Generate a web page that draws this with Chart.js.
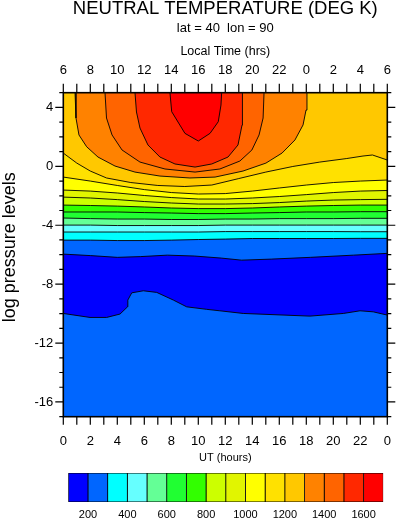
<!DOCTYPE html>
<html>
<head>
<meta charset="utf-8">
<script src="https://cdn.jsdelivr.net/npm/chart.js@4.4.1/dist/chart.umd.min.js"></script>
<style>
  html, body { margin: 0; padding: 0; background: #fff; }
  #wrap { position: relative; width: 398px; height: 519px; }
  #main { position: absolute; left: 0; top: 0; }
  #bar { position: absolute; left: 0; top: 470px; }
</style>
</head>
<body>
<div id="wrap">
  <canvas id="main" width="398" height="470" style="width:398px;height:470px"></canvas>
  <canvas id="bar" width="398" height="49" style="width:398px;height:49px"></canvas>
</div>
<script>
Chart.defaults.font.family = "'Liberation Sans', Arial, Helvetica, sans-serif";
Chart.defaults.color = '#000';

// contour levels (deg K) and the fill colour of each interval
const levels = [200, 300, 400, 500, 600, 700, 800, 900, 1000, 1100, 1200, 1300, 1400, 1500, 1600];
const palette = ['#0000ff', '#0066ff', '#00ffff', '#66ffff', '#64ff96', '#20ff32', '#32ff00', '#ccff00',
                 '#e1f500', '#ffff00', '#ffe100', '#ffc800', '#ff8200', '#ff6400', '#ff2800', '#ff0000'];

// tick labels
const utLabels = ['0', '2', '4', '6', '8', '10', '12', '14', '16', '18', '20', '22', '0'];
const localLabels = ['6', '8', '10', '12', '14', '16', '18', '20', '22', '0', '2', '4', '6'];
const pressureTicks = [4, 0, -4, -8, -12, -16];
const pressureLabels = ['4', '0', '-4', '-8', '-12', '-16'];
const barLabels = ['200', '400', '600', '800', '1000', '1200', '1400', '1600'];

// contour lines: UT (hours) and log pressure
const utGrid = [0, 2, 4, 6, 8, 10, 12, 14, 16, 18, 20, 22, 24];
const utBase = [0, 24];
const levBase = [-17, -17];
const ut200a = [0, 1.98, 3.21, 4.2, 4.76, 4.78, 5.07, 5.93, 6.92, 8.15, 9.14, 10.62, 11.6, 13.33, 18.27, 20.74, 21.98, 22.96, 24];
const lev200a = [-9.99, -10.26, -10.26, -10.03, -9.54, -9.08, -8.59, -8.45, -8.56, -9.08, -9.54, -9.71, -9.81, -9.99, -10.17, -9.99, -9.81, -9.88, -10.10];
const ut200b = [0, 2, 4, 5.7, 7.7, 9.7, 11.7, 13.2, 15.4, 18.3, 21.5, 24];
const lev200b = [-5.96, -6.06, -6.18, -6.13, -6.03, -6.09, -6.23, -6.37, -6.30, -6.18, -6.03, -5.91];
const lev300 = [-5.01, -5.01, -5.04, -5.04, -5.01, -4.97, -4.94, -4.90, -4.90, -4.90, -4.90, -4.89, -4.89];
const lev400 = [-4.46, -4.46, -4.46, -4.46, -4.46, -4.46, -4.43, -4.43, -4.43, -4.43, -4.43, -4.44, -4.44];
const lev500 = [-3.99, -3.99, -4.02, -4.02, -4.02, -4.02, -3.99, -3.99, -3.99, -3.99, -3.99, -3.99, -3.99];
const lev600 = [-3.51, -3.55, -3.58, -3.58, -3.61, -3.61, -3.58, -3.58, -3.55, -3.55, -3.55, -3.53, -3.53];
const lev700 = [-3.10, -3.10, -3.10, -3.14, -3.17, -3.21, -3.21, -3.17, -3.14, -3.10, -3.10, -3.08, -3.08];
const lev800 = [-2.63, -2.66, -2.70, -2.76, -2.83, -2.87, -2.87, -2.83, -2.76, -2.70, -2.66, -2.63, -2.63];
const lev900 = [-2.09, -2.15, -2.26, -2.39, -2.49, -2.56, -2.56, -2.53, -2.46, -2.36, -2.29, -2.26, -2.24];
const lev1000 = [-1.61, -1.68, -1.81, -1.98, -2.12, -2.22, -2.22, -2.15, -2.05, -1.92, -1.78, -1.68, -1.64];
const lev1100 = [-0.73, -1.00, -1.30, -1.58, -1.78, -1.88, -1.85, -1.68, -1.47, -1.27, -1.10, -1.00, -0.93];
const ut1200 = [0, 1, 2, 3.2, 5, 7, 9, 11, 13, 15, 17, 19, 21, 22.2, 22.9, 24];
const lev1200 = [0.90, 0.22, -0.32, -0.79, -1.10, -1.30, -1.37, -1.27, -0.83, -0.39, -0.01, 0.29, 0.53, 0.70, 0.77, 0.43];
const ut1300 = [0.87, 0.94, 1.16, 1.73, 2.57, 3.83, 5.31, 7.16, 9.38, 11.24, 13.31, 15.01, 16.2, 17.16, 17.76, 17.98, 18.05];
const lev1300 = [5, 3.28, 2.13, 1.33, 0.63, 0.02, -0.39, -0.66, -0.79, -0.73, -0.32, 0.22, 0.90, 1.79, 2.81, 3.82, 5];
const ut1400 = [3.09, 3.2, 3.61, 4.35, 5.68, 7.53, 9.76, 11.6, 13.08, 13.97, 14.5, 14.8, 14.87];
const lev1400 = [5, 3.28, 2.13, 1.11, 0.29, -0.18, -0.39, -0.18, 0.36, 1.11, 2.13, 3.28, 5];
const ut1500 = [5.31, 5.42, 5.68, 6.27, 7.16, 8.27, 9.76, 11.0, 12.2, 12.94, 13.24, 13.27];
const lev1500 = [5, 3.69, 2.6, 1.45, 0.63, 0.16, -0.05, 0.16, 0.63, 1.45, 2.8, 5];
const ut1600 = [7.9, 8.03, 9.01, 10.0, 10.87, 11.48, 11.68, 11.73];
const lev1600 = [5, 3.71, 2.24, 1.72, 2.24, 3.03, 4.16, 5];

// bottom to top; each one is filled upward with the colour of the band above it
const contours = [
  { x: utBase, y: levBase, band: 1, line: false },
  { x: ut200a, y: lev200a, band: 0 },
  { x: ut200b, y: lev200b, band: 1 },
  { x: utGrid, y: lev300, band: 2 },
  { x: utGrid, y: lev400, band: 3 },
  { x: utGrid, y: lev500, band: 4 },
  { x: utGrid, y: lev600, band: 5 },
  { x: utGrid, y: lev700, band: 6 },
  { x: utGrid, y: lev800, band: 7 },
  { x: utGrid, y: lev900, band: 8 },
  { x: utGrid, y: lev1000, band: 9 },
  { x: utGrid, y: lev1100, band: 10 },
  { x: ut1200, y: lev1200, band: 11 },
  { x: ut1300, y: lev1300, band: 12 },
  { x: ut1400, y: lev1400, band: 13 },
  { x: ut1500, y: lev1500, band: 14 },
  { x: ut1600, y: lev1600, band: 15 }
];

const datasets = contours.map((c, k) => ({
  data: c.x.map((x, i) => ({ x: x, y: c.y[i] })),
  fill: 'end',
  backgroundColor: palette[c.band],
  borderColor: '#000',
  borderWidth: c.line === false ? 0 : 0.9,
  pointRadius: 0,
  tension: 0,
  order: contours.length - k
}));

function pressureLabel(v) {
  const i = pressureTicks.indexOf(v);
  return i >= 0 ? pressureLabels[i] : '';
}

// invisible grid ticks only push the tick labels away from the frame
const spacer = len => ({ display: true, drawOnChartArea: false, drawTicks: true, tickLength: len, tickColor: 'rgba(0,0,0,0)' });

// tick marks (long on labelled ticks, short on the others) and the frame
const frame = {
  id: 'frame',
  afterDraw(chart) {
    const { ctx, chartArea: a, scales } = chart;
    ctx.save();
    ctx.strokeStyle = '#000';
    ctx.lineWidth = 1.2;
    ctx.beginPath();
    scales.x.ticks.forEach(t => {
      const p = scales.x.getPixelForValue(t.value);
      ctx.moveTo(p, a.bottom); ctx.lineTo(p, a.bottom + 8);
    });
    scales.x2.ticks.forEach(t => {
      const p = scales.x2.getPixelForValue(t.value);
      ctx.moveTo(p, a.top); ctx.lineTo(p, a.top - 9);
    });
    scales.y.ticks.forEach(t => {
      const p = scales.y.getPixelForValue(t.value);
      const len = pressureLabel(t.value) ? 8 : 4;
      ctx.moveTo(a.left, p); ctx.lineTo(a.left - len, p);
    });
    scales.y2.ticks.forEach(t => {
      const p = scales.y2.getPixelForValue(t.value);
      const len = pressureLabel(t.value) ? 8 : 4;
      ctx.moveTo(a.right, p); ctx.lineTo(a.right + len, p);
    });
    ctx.stroke();
    ctx.lineWidth = 1.6;
    ctx.strokeRect(a.left, a.top, a.right - a.left, a.bottom - a.top);
    ctx.restore();
  }
};

new Chart(document.getElementById('main'), {
  type: 'line',
  data: { datasets },
  options: {
    responsive: false,
    animation: false,
    devicePixelRatio: 1,
    layout: { padding: 0 },
    plugins: {
      legend: { display: false },
      tooltip: { enabled: false },
      title: {
        display: true, text: 'NEUTRAL TEMPERATURE (DEG K)', fullSize: false,
        font: { size: 18.5, weight: 'normal', lineHeight: '17px' },
        padding: { top: 0, bottom: 0 }
      },
      subtitle: {
        display: true, text: 'lat = 40  lon = 90', fullSize: false,
        font: { size: 13, lineHeight: '15px' },
        padding: { top: 4, bottom: 0 }
      }
    },
    scales: {
      x: {
        type: 'linear', position: 'bottom', min: 0, max: 24,
        grid: spacer(17), border: { display: false },
        ticks: {
          stepSize: 1, autoSkip: false, maxRotation: 0, padding: 0,
          font: { size: 13, lineHeight: '15.6px' },
          callback: v => (v % 2 === 0 ? utLabels[v / 2] : '')
        },
        title: { display: true, text: 'UT (hours)', font: { size: 11, lineHeight: '13px' }, padding: { top: 0, bottom: 5.5 } },
        afterFit: s => { s.height = 53.3; }
      },
      x2: {
        type: 'linear', position: 'top', min: 0, max: 24,
        grid: spacer(14), border: { display: false },
        ticks: {
          stepSize: 1, autoSkip: false, maxRotation: 0, padding: 0,
          font: { size: 13, lineHeight: '15.6px' },
          callback: v => (v % 2 === 0 ? localLabels[v / 2] : '')
        },
        title: { display: true, text: 'Local Time (hrs)', font: { size: 12.5, lineHeight: '15px' }, padding: { top: 8, bottom: 0 } },
        afterFit: s => { s.height = 56.7; }
      },
      y: {
        type: 'linear', position: 'left', min: -17, max: 5,
        grid: { display: false, drawTicks: false }, border: { display: false },
        ticks: { stepSize: 1, autoSkip: false, padding: 10, font: { size: 13 }, callback: pressureLabel },
        title: { display: true, text: '   log pressure levels', font: { size: 18, lineHeight: '20px' }, padding: { top: 0.5, bottom: 0 } },
        afterFit: s => { s.width = 63.3; }
      },
      y2: {
        type: 'linear', position: 'right', min: -17, max: 5,
        grid: { display: false, drawTicks: false }, border: { display: false },
        ticks: { stepSize: 1, autoSkip: false, display: false, callback: pressureLabel },
        afterFit: s => { s.width = 10.7; }
      }
    }
  },
  plugins: [frame]
});

// colour bar
const edges = [100].concat(levels, [1700]);
new Chart(document.getElementById('bar'), {
  type: 'bar',
  data: {
    labels: [''],
    datasets: palette.map((c, i) => ({
      data: [[edges[i], edges[i + 1]]],
      backgroundColor: c,
      borderColor: '#000',
      borderWidth: 0.8,
      borderSkipped: false,
      barPercentage: 1,
      categoryPercentage: 1,
      grouped: false
    }))
  },
  options: {
    indexAxis: 'y',
    responsive: false,
    animation: false,
    devicePixelRatio: 1,
    layout: { padding: { left: 68.3, right: 14.7, top: 3, bottom: 0 } },
    plugins: { legend: { display: false }, tooltip: { enabled: false } },
    scales: {
      x: {
        type: 'linear', min: 100, max: 1700,
        grid: { display: false, drawTicks: false }, border: { display: false },
        ticks: {
          stepSize: 100, autoSkip: false, maxRotation: 0, padding: 6,
          font: { size: 11, lineHeight: '13px' },
          callback: v => (barLabels.includes(String(v)) ? String(v) : '')
        },
        afterFit: s => { s.height = 17; }
      },
      y: { display: false }
    }
  }
});
</script>
</body>
</html>
